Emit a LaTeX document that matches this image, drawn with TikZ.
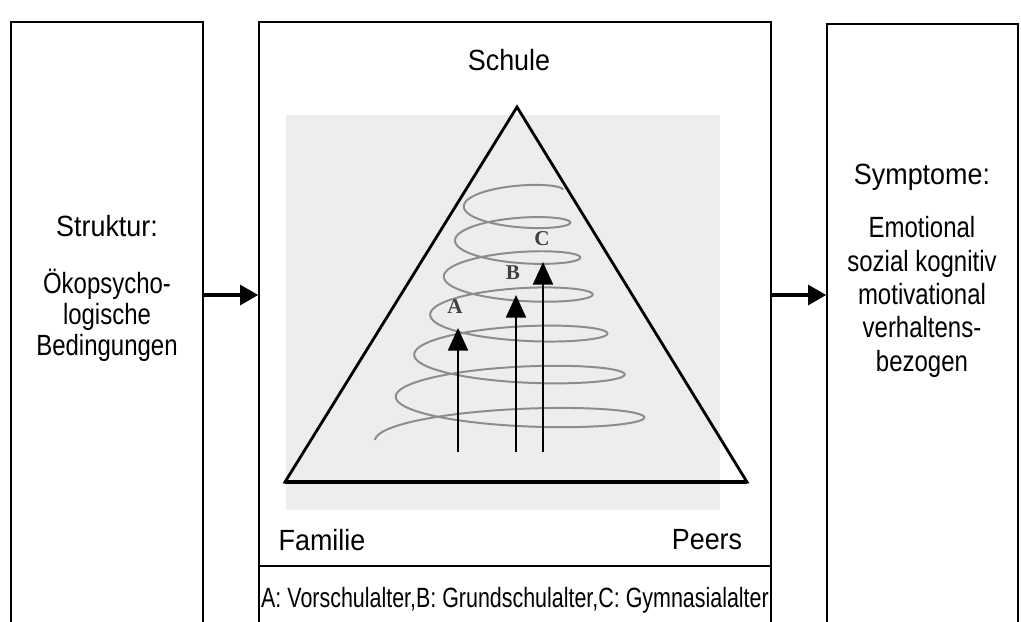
\documentclass[tikz,border=0pt]{standalone}
\usepackage{fontspec}
\setmainfont{Liberation Sans}
\newfontfamily\kopffont{Liberation Sans}[FakeStretch=0.92]
\newfontfamily\rumpffont{Liberation Sans}[FakeStretch=0.82]
\newfontfamily\legendefont{Liberation Sans}[FakeStretch=0.77]
\newfontfamily\stufenfont{Liberation Serif}
\usetikzlibrary{arrows.meta,fit}

\begin{document}
\begin{tikzpicture}[x=0.025cm, y=-0.025cm,
    kasten/.style={draw, line width=1pt, inner sep=0pt},
    kopf/.style={font=\kopffont\fontsize{20.8}{24}\selectfont},
    rumpf/.style={font=\rumpffont\fontsize{20.8}{22}\selectfont, align=center},
    stufe/.style={font=\stufenfont\bfseries\fontsize{15}{15}\selectfont, text=black!75, inner sep=1pt},
    pfeil/.style={line width=2.8pt, -{Triangle[length=13pt,width=14pt]}},
    hoch/.style={line width=2pt, -{Triangle[length=16pt,width=14pt]}},
    declare function={kk(\t)=(\t-180)/360;}]
  \clip (0,0) rectangle (1021,621);
  \fill[black!7] (286,115) rectangle (720,510);
  % drei Kaesten, unten offen
  \node[kasten, fit={(11,22) (203,660)}] (struktur) {};
  \node[kasten, fit={(259,22) (771,660)}] (umwelt) {};
  \node[kasten, fit={(827,24) (1018,660)}] (symptome) {};
  \coordinate (pfeilhoehe) at (0,295);
  \coordinate (trenn) at (0,566);
  \draw[line width=1pt] (umwelt.west |- trenn) -- (umwelt.east |- trenn);
  \draw[pfeil] (struktur.east |- pfeilhoehe) -- (umwelt.west |- pfeilhoehe);
  \draw[pfeil] (umwelt.east |- pfeilhoehe) -- (symptome.west |- pfeilhoehe);

  \node[kopf] (strukturkopf) at (107,226) {Struktur:};
  \node[rumpf] (strukturtext) at (107,315) {Ökopsycho-\\logische\\Bedingungen};
  \node[kopf] (symptomkopf) at (922,177) {Symptome:};
  \node[rumpf, font=\rumpffont\fontsize{20.8}{23.7}\selectfont] (symptomtext) at (922,297)
    {Emotional\\sozial kognitiv\\motivational\\verhaltens-\\bezogen};

  % Dreieck
  \coordinate (spitze) at (517,107);
  \coordinate (links) at (285,482);
  \coordinate (rechts) at (747,482);
  \draw[line width=2pt, line join=miter] (spitze) -- (rechts) -- (links) -- cycle;
  \draw[line width=3.5pt] (links) -- (rechts);
  \node[kopf] (schule) at (509,60) {Schule};
  \node[kopf] (familie) at (322,540) {Familie};
  \node[kopf] (peers) at (707,540) {Peers};
  \node[font=\legendefont\fontsize{19.8}{22}\selectfont] (legende) at (515,600)
    {A: Vorschulalter,B: Grundschulalter,C: Gymnasialalter};

  % Spirale
  \draw[black!45, line width=1.4pt, smooth] plot[domain=180:2520, samples=500, variable=\t]
    ({515+(140-22*kk(\t)+1.2*kk(\t)^2)*cos(\t)}, {440-45*kk(\t)+kk(\t)^2+(20-1.3*kk(\t))*sin(\t)});

  \node[stufe] (A) at (455,307) {A};
  \node[stufe] (B) at (513,273) {B};
  \node[stufe] (C) at (542,239) {C};
  \coordinate (fussA) at (458,452);
  \coordinate (fussB) at (516,452);
  \coordinate (fussC) at (543,452);
  \draw[hoch] (fussA) -- (fussA |- 0,328);
  \draw[hoch] (fussB) -- (fussB |- 0,295);
  \draw[hoch] (fussC) -- (fussC |- 0,262);
\end{tikzpicture}
\end{document}
